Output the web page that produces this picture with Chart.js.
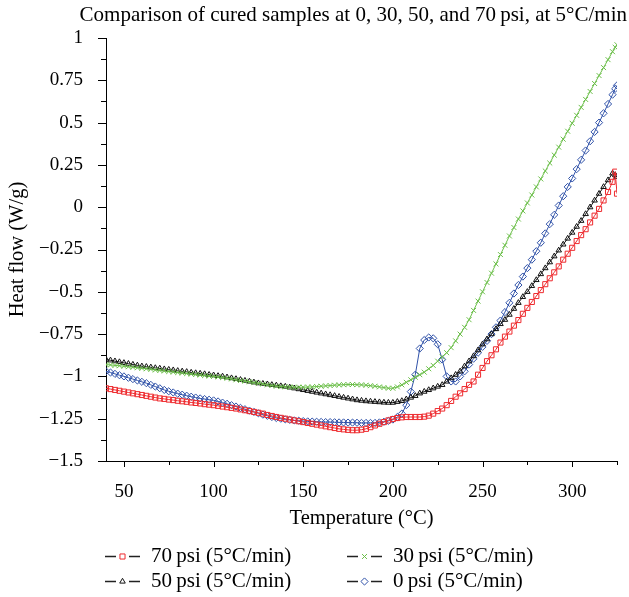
<!DOCTYPE html>
<html lang="en">
<head>
<meta charset="UTF-8">
<title>Comparison of cured samples</title>
<script src="https://cdn.jsdelivr.net/npm/chart.js@4"></script>
<style>
  html, body { margin: 0; padding: 0; background: #fff; }
</style>
</head>
<body>
<canvas id="dsc" width="629" height="597"></canvas>
<script>
// temperatures (°C) where the curves are read
const temps = [
  40, 42.5, 45, 47.5, 50, 52.5, 55, 57.5, 60, 62.5,
  65, 67.5, 70, 72.5, 75, 77.5, 80, 82.5, 85, 87.5,
  90, 92.5, 95, 97.5, 100, 102.5, 105, 107.5, 110, 112.5,
  115, 117.5, 120, 122.5, 125, 127.5, 130, 132.5, 135, 137.5,
  140, 142.5, 145, 147.5, 150, 152.5, 155, 157.5, 160, 162.5,
  165, 167.5, 170, 172.5, 175, 177.5, 180, 182.5, 185, 187.5,
  190, 192.5, 195, 197.5, 200, 202.5, 205, 207.5, 210, 212.5,
  215, 217.5, 220, 222.5, 225, 227.5, 230, 232.5, 235, 237.5,
  240, 242.5, 245, 247.5, 250, 252.5, 255, 257.5, 260, 262.5,
  265, 267.5, 270, 272.5, 275, 277.5, 280, 282.5, 285, 287.5,
  290, 292.5, 295, 297.5, 300, 302.5, 305, 307.5, 310, 312.5,
  315, 317.5, 320, 322.5, 324, 325
];

// heat flow (W/g)
const psi70 = [
  -1.07, -1.075, -1.08, -1.085, -1.09, -1.095, -1.10, -1.105, -1.11, -1.115,
  -1.12, -1.125, -1.13, -1.133, -1.137, -1.14, -1.144, -1.147, -1.15, -1.154,
  -1.157, -1.16, -1.164, -1.167, -1.17, -1.174, -1.178, -1.182, -1.186, -1.19,
  -1.195, -1.2, -1.205, -1.21, -1.215, -1.22, -1.228, -1.234, -1.24, -1.245,
  -1.25, -1.255, -1.26, -1.265, -1.27, -1.275, -1.28, -1.285, -1.29, -1.295,
  -1.3, -1.305, -1.31, -1.313, -1.316, -1.318, -1.318, -1.315, -1.31, -1.3,
  -1.29, -1.28, -1.27, -1.26, -1.252, -1.246, -1.242, -1.24, -1.24, -1.24,
  -1.24, -1.238, -1.232, -1.22, -1.205, -1.19, -1.17, -1.145, -1.12, -1.1,
  -1.075, -1.05, -1.03, -0.99, -0.95, -0.91, -0.875, -0.84, -0.8, -0.765,
  -0.735, -0.7, -0.667, -0.63, -0.595, -0.56, -0.525, -0.49, -0.455, -0.42,
  -0.385, -0.35, -0.31, -0.275, -0.24, -0.2, -0.165, -0.13, -0.09, -0.05,
  -0.01, 0.04, 0.09, 0.15, 0.21, 0.08
];
const psi30 = [
  -0.93, -0.932, -0.935, -0.937, -0.94, -0.943, -0.946, -0.949, -0.952, -0.955,
  -0.958, -0.962, -0.965, -0.968, -0.971, -0.974, -0.977, -0.98, -0.983, -0.986,
  -0.989, -0.992, -0.995, -0.998, -1.0, -1.003, -1.007, -1.011, -1.015, -1.02,
  -1.024, -1.028, -1.032, -1.037, -1.041, -1.045, -1.05, -1.054, -1.058, -1.06,
  -1.062, -1.063, -1.064, -1.064, -1.064, -1.063, -1.062, -1.06, -1.058, -1.056,
  -1.054, -1.052, -1.05, -1.049, -1.048, -1.048, -1.049, -1.05, -1.052, -1.055,
  -1.058, -1.062, -1.066, -1.07, -1.07, -1.062, -1.05, -1.035, -1.02, -1.005,
  -0.99, -0.975, -0.955, -0.935, -0.91, -0.885, -0.86, -0.83, -0.79, -0.75,
  -0.71, -0.665, -0.61, -0.555, -0.5, -0.445, -0.39, -0.335, -0.28, -0.225,
  -0.17, -0.12, -0.07, -0.022, 0.025, 0.072, 0.12, 0.167, 0.214, 0.261,
  0.308, 0.355, 0.402, 0.449, 0.496, 0.543, 0.59, 0.637, 0.684, 0.731,
  0.778, 0.825, 0.872, 0.919, 0.945, 0.96
];
const psi50 = [
  -0.90, -0.905, -0.91, -0.915, -0.92, -0.925, -0.93, -0.935, -0.94, -0.943,
  -0.946, -0.95, -0.953, -0.957, -0.96, -0.963, -0.967, -0.97, -0.973, -0.977,
  -0.98, -0.983, -0.986, -0.99, -0.993, -0.997, -1.0, -1.005, -1.01, -1.015,
  -1.02, -1.025, -1.03, -1.035, -1.04, -1.043, -1.046, -1.05, -1.053, -1.057,
  -1.06, -1.065, -1.07, -1.075, -1.08, -1.085, -1.09, -1.095, -1.1, -1.105,
  -1.11, -1.115, -1.12, -1.125, -1.13, -1.135, -1.14, -1.143, -1.146, -1.148,
  -1.15, -1.152, -1.154, -1.155, -1.155, -1.15, -1.145, -1.135, -1.125, -1.115,
  -1.1, -1.09, -1.08, -1.07, -1.06, -1.05, -1.03, -1.01, -0.99, -0.97,
  -0.94, -0.91, -0.88, -0.845, -0.81, -0.78, -0.75, -0.72, -0.69, -0.665,
  -0.635, -0.6, -0.565, -0.53, -0.5, -0.465, -0.43, -0.395, -0.36, -0.325,
  -0.29, -0.255, -0.22, -0.185, -0.15, -0.115, -0.08, -0.04, 0.0, 0.04,
  0.08, 0.12, 0.16, 0.2, 0.19, 0.18
];
const psi0 = [
  -0.97, -0.977, -0.985, -0.993, -1.0, -1.008, -1.016, -1.024, -1.032, -1.04,
  -1.05, -1.06, -1.07, -1.08, -1.088, -1.095, -1.102, -1.108, -1.114, -1.12,
  -1.125, -1.13, -1.134, -1.138, -1.142, -1.148, -1.155, -1.162, -1.17, -1.178,
  -1.186, -1.194, -1.202, -1.21, -1.218, -1.226, -1.233, -1.24, -1.246, -1.25,
  -1.254, -1.257, -1.26, -1.262, -1.264, -1.266, -1.267, -1.268, -1.269, -1.27,
  -1.27, -1.271, -1.272, -1.272, -1.273, -1.273, -1.274, -1.275, -1.275, -1.275,
  -1.275, -1.272, -1.268, -1.263, -1.255, -1.24, -1.22, -1.17, -1.09, -0.99,
  -0.835, -0.785, -0.77, -0.775, -0.81, -0.9, -1.0, -1.03, -1.03, -1.0,
  -0.97, -0.93, -0.895, -0.86, -0.825, -0.79, -0.75, -0.71, -0.67, -0.62,
  -0.565, -0.51, -0.46, -0.41, -0.36, -0.31, -0.26, -0.21, -0.155, -0.1,
  -0.045, 0.01, 0.065, 0.12, 0.17, 0.225, 0.28, 0.335, 0.39, 0.445,
  0.5, 0.555, 0.61, 0.665, 0.7, 0.72
];

// axis ticks
const xMajor = [50, 100, 150, 200, 250, 300];
const xMinor = [75, 125, 175, 225, 275, 325];
const yMajor = [-1.5, -1.25, -1, -0.75, -0.5, -0.25, 0, 0.25, 0.5, 0.75, 1];
const yMinor = [-1.375, -1.125, -0.875, -0.625, -0.375, -0.125, 0.125, 0.375, 0.625, 0.875];

const seriesNames = ['70\u2009psi (5°C/min)', '30\u2009psi (5°C/min)', '50\u2009psi (5°C/min)', '0\u2009psi (5°C/min)'];
const seriesColors = ['#ee2a2e', '#6cbf4a', '#111111', '#2f51a8'];
const seriesMarkers = ['rect', 'crossRot', 'triangle', 'rectRot'];
const seriesSizes = [3.6, 3.5, 3.2, 3.6];

Chart.defaults.font.family = '"Liberation Serif", "DejaVu Serif", serif';
Chart.defaults.color = '#000';

function fmt(v) {
  if (v === 0) return '0';
  return (v < 0 ? '\u2212' : '') + String(Math.abs(v));
}

// short tick marks, major longer than minor, pointing out of the plot
const tickMarks = {
  id: 'tickMarks',
  afterDraw(chart) {
    const { ctx, chartArea, scales: { x, y } } = chart;
    ctx.save();
    ctx.strokeStyle = '#000';
    ctx.lineWidth = 1;
    ctx.beginPath();
    const xt = (v, len) => {
      const px = Math.round(x.getPixelForValue(v)) + 0.5;
      ctx.moveTo(px, chartArea.bottom);
      ctx.lineTo(px, chartArea.bottom + len);
    };
    const yt = (v, len) => {
      const py = Math.round(y.getPixelForValue(v)) + 0.5;
      ctx.moveTo(chartArea.left, py);
      ctx.lineTo(chartArea.left - len, py);
    };
    xMajor.forEach(v => xt(v, 6));
    xMinor.forEach(v => xt(v, 4));
    yMajor.forEach(v => yt(v, 8));
    yMinor.forEach(v => yt(v, 5));
    ctx.stroke();
    ctx.restore();
  }
};

// two-column legend under the axis
const legendGrid = {
  id: 'legendGrid',
  afterDraw(chart) {
    const ctx = chart.ctx;
    const cols = [105, 347];
    const rows = [556, 581];
    const order = [[0, 1], [2, 3]];
    ctx.save();
    ctx.font = '21px "Liberation Serif", serif';
    ctx.textBaseline = 'middle';
    order.forEach((row, r) => {
      row.forEach((i, c) => {
        const x0 = cols[c], yy = rows[r];
        ctx.strokeStyle = '#222';
        ctx.lineWidth = 1.3;
        ctx.beginPath();
        ctx.moveTo(x0, yy + 0.5); ctx.lineTo(x0 + 11, yy + 0.5);
        ctx.moveTo(x0 + 24, yy + 0.5); ctx.lineTo(x0 + 35, yy + 0.5);
        ctx.stroke();
        ctx.strokeStyle = seriesColors[i];
        ctx.fillStyle = 'rgba(0,0,0,0)';
        ctx.lineWidth = 1;
        Chart.helpers.drawPoint(ctx, { pointStyle: seriesMarkers[i], radius: seriesSizes[i], borderWidth: 1, rotation: 0 }, x0 + 17.5, yy + 0.5);
        ctx.fillStyle = '#000';
        ctx.fillText(seriesNames[i], x0 + 46, yy);
      });
    });
    ctx.restore();
  }
};

const seriesValues = [psi70, psi30, psi50, psi0];
const datasets = seriesValues.map((vals, i) => ({
  label: seriesNames[i],
  data: temps.map((t, k) => ({ x: t, y: vals[k] })),
  borderColor: seriesColors[i],
  backgroundColor: 'rgba(0,0,0,0)',
  borderWidth: 1,
  pointStyle: seriesMarkers[i],
  pointRadius: seriesSizes[i],
  pointBorderWidth: 1,
  pointBorderColor: seriesColors[i],
  pointBackgroundColor: 'rgba(0,0,0,0)',
  tension: 0
}));

new Chart(document.getElementById('dsc'), {
  type: 'line',
  data: { datasets: datasets },
  options: {
    responsive: false,
    animation: false,
    devicePixelRatio: 1,
    layout: { padding: { left: 0, right: 2, top: 0, bottom: 60 } },
    plugins: {
      legend: { display: false },
      tooltip: { enabled: false },
      title: {
        display: true,
        align: 'end',
        text: 'Comparison of cured samples at 0, 30, 50, and 70\u2009psi, at 5°C/min',
        color: '#000',
        font: { size: 21, weight: 'normal' },
        padding: { top: 3, bottom: 9.8 }
      }
    },
    scales: {
      x: {
        type: 'linear',
        min: 40,
        max: 325,
        grid: { display: false },
        border: { display: true, color: '#000', width: 1 },
        ticks: {
          autoSkip: false,
          maxRotation: 0,
          padding: 12,
          font: { size: 19 },
          callback: v => xMajor.includes(v) ? String(v) : ''
        },
        title: {
          display: true,
          text: 'Temperature (°C)',
          font: { size: 20.5 },
          padding: { top: 0, bottom: 6 }
        },
        afterBuildTicks: s => { s.ticks = xMajor.concat(xMinor).sort((a, b) => a - b).map(v => ({ value: v })); },
        afterFit: s => { s.height = 76; }
      },
      y: {
        type: 'linear',
        min: -1.5,
        max: 1,
        grid: { display: false },
        border: { display: true, color: '#000', width: 1 },
        ticks: {
          autoSkip: false,
          padding: 15,
          font: { size: 19 },
          callback: v => yMajor.includes(v) ? fmt(v) : ''
        },
        title: {
          display: true,
          text: 'Heat flow (W/g)',
          font: { size: 20.5 },
          padding: { top: 5, bottom: 0 }
        },
        afterBuildTicks: s => { s.ticks = yMajor.concat(yMinor).sort((a, b) => a - b).map(v => ({ value: v })); },
        afterFit: s => { s.width = 106; }
      }
    }
  },
  plugins: [tickMarks, legendGrid]
});
</script>
</body>
</html>
